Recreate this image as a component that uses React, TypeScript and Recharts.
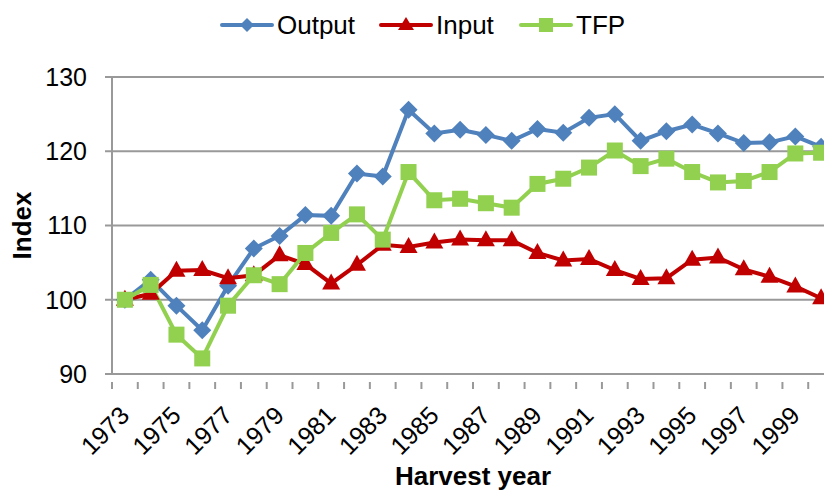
import React from 'react';
import { LineChart, Line, XAxis, YAxis, CartesianGrid, Legend } from 'recharts';

const years = [1973, 1974, 1975, 1976, 1977, 1978, 1979, 1980, 1981, 1982, 1983, 1984, 1985, 1986, 1987, 1988, 1989, 1990, 1991, 1992, 1993, 1994, 1995, 1996, 1997, 1998, 1999, 2000];
const output = [100.0, 102.7, 99.2, 95.9, 101.9, 106.9, 108.6, 111.4, 111.3, 117.0, 116.6, 125.6, 122.4, 122.9, 122.2, 121.4, 123.0, 122.5, 124.5, 125.0, 121.4, 122.7, 123.6, 122.4, 121.1, 121.2, 122.0, 120.6];
const input = [100.0, 100.8, 103.9, 104.0, 102.9, 103.3, 106.0, 104.8, 102.2, 104.7, 107.4, 107.1, 107.7, 108.1, 108.0, 108.0, 106.3, 105.3, 105.5, 104.0, 102.8, 102.9, 105.4, 105.7, 104.1, 103.1, 101.8, 100.2];
const tfp = [100.0, 102.0, 95.3, 92.1, 99.2, 103.3, 102.1, 106.3, 109.0, 111.5, 108.1, 117.2, 113.4, 113.6, 113.0, 112.4, 115.6, 116.3, 117.8, 120.1, 118.0, 119.0, 117.2, 115.8, 116.0, 117.2, 119.7, 119.8];
const yTicks = [90, 100, 110, 120, 130];
const labelYears = [1973, 1975, 1977, 1979, 1981, 1983, 1985, 1987, 1989, 1991, 1993, 1995, 1997, 1999];

const data = years.map((y, i) => ({ year: y, Output: output[i], Input: input[i], TFP: tfp[i] }));
const boundaries = [...years.map((y) => y - 0.5), years[years.length - 1] + 0.5];
const xTicks = [...boundaries, ...labelYears].sort((a, b) => a - b);

const FONT = '"Liberation Sans", Arial, sans-serif';
const BLUE = '#4F81BD';
const RED = '#C00000';
const GREEN = '#92D050';
const GRID = '#999999';

const Diamond = (props: any) => {
  const { cx, cy } = props;
  if (cx == null || cy == null) return null;
  const r = 9;
  return <path d={`M${cx},${cy - r} L${cx + r},${cy} L${cx},${cy + r} L${cx - r},${cy} Z`} fill={BLUE} />;
};
const Triangle = (props: any) => {
  const { cx, cy } = props;
  if (cx == null || cy == null) return null;
  return <path d={`M${cx},${cy - 10} L${cx + 9},${cy + 6} L${cx - 9},${cy + 6} Z`} fill={RED} />;
};
const Square = (props: any) => {
  const { cx, cy } = props;
  if (cx == null || cy == null) return null;
  return <rect x={cx - 8} y={cy - 8} width={16} height={16} fill={GREEN} />;
};

const XTick = (props: any) => {
  const { x, y, payload } = props;
  const v = payload.value;
  if (Math.abs(v - Math.round(v)) > 0.1) {
    return <line x1={x} y1={y} x2={x} y2={y + 7} stroke={GRID} strokeWidth={2} />;
  }
  if (!labelYears.includes(v)) return null;
  const ax = x + 6;
  const ay = y + 35;
  return (
    <text x={ax} y={ay} textAnchor="end" fontSize={25} fontFamily={FONT} fill="#000" transform={`rotate(-45, ${ax}, ${ay})`}>
      {v}
    </text>
  );
};

const legendItems = [
  { name: 'Output', color: BLUE, shape: 'diamond' },
  { name: 'Input', color: RED, shape: 'triangle' },
  { name: 'TFP', color: GREEN, shape: 'square' },
];

const LegendContent = () => (
  <svg width={824} height={50}>
    {legendItems.map((it, i) => {
      const starts = [222, 381, 521];
      const x0 = starts[i];
      const cy = 25;
      const mx = x0 + 25;
      let marker;
      if (it.shape === 'diamond') marker = <path d={`M${mx},${cy - 7} L${mx + 7},${cy} L${mx},${cy + 7} L${mx - 7},${cy} Z`} fill={it.color} />;
      else if (it.shape === 'triangle') marker = <path d={`M${mx},${cy - 8} L${mx + 8},${cy + 5} L${mx - 8},${cy + 5} Z`} fill={it.color} />;
      else marker = <rect x={mx - 7} y={cy - 7} width={14} height={14} fill={it.color} />;
      return (
        <g key={it.name}>
          <line x1={x0} y1={cy} x2={x0 + 50} y2={cy} stroke={it.color} strokeWidth={4} strokeLinecap="round" />
          {marker}
          <text x={x0 + 55} y={cy + 9} fontSize={26} fontFamily={FONT} fill="#000">{it.name}</text>
        </g>
      );
    })}
  </svg>
);

export default function App() {
  return (
    <div style={{ position: 'fixed', left: 0, top: 0, width: 824, height: 491, overflow: 'hidden', background: '#fff' }}>
      <LineChart width={850} height={491} data={data} margin={{ top: 77, right: 16, left: 0, bottom: 0 }}>
        <CartesianGrid horizontal={true} vertical={false} stroke={GRID} strokeWidth={2} />
        <XAxis
          dataKey="year"
          type="number"
          domain={[1972.5, 2000.5]}
          ticks={xTicks}
          interval={0}
          tickLine={false}
          axisLine={{ stroke: GRID, strokeWidth: 2 }}
          tick={<XTick />}
          height={117}
          label={(p: any) => (
            <text x={473} y={485} textAnchor="middle" fontSize={26} fontWeight="bold" fontFamily={FONT} fill="#000">Harvest year</text>
          )}
        />
        <YAxis
          domain={[90, 130]}
          ticks={yTicks}
          width={112}
          tickSize={7}
          tickMargin={18}
          tickLine={{ stroke: GRID, strokeWidth: 2 }}
          axisLine={{ stroke: GRID, strokeWidth: 2 }}
          tick={{ fontSize: 25, fontFamily: FONT, fill: '#000' }}
          label={(p: any) => (
            <text x={31} y={225.5} textAnchor="middle" fontSize={26} fontWeight="bold" fontFamily={FONT} fill="#000" transform="rotate(-90, 31, 225.5)">Index</text>
          )}
        />
        <Legend layout="vertical" align="center" verticalAlign="middle" content={<LegendContent />} wrapperStyle={{ top: 0, left: 0, width: 824, height: 50 }} />
        <Line dataKey="Output" stroke={BLUE} strokeWidth={4} dot={<Diamond />} activeDot={false} isAnimationActive={false} />
        <Line dataKey="Input" stroke={RED} strokeWidth={4} dot={<Triangle />} activeDot={false} isAnimationActive={false} />
        <Line dataKey="TFP" stroke={GREEN} strokeWidth={4} dot={<Square />} activeDot={false} isAnimationActive={false} />
      </LineChart>
    </div>
  );
}
